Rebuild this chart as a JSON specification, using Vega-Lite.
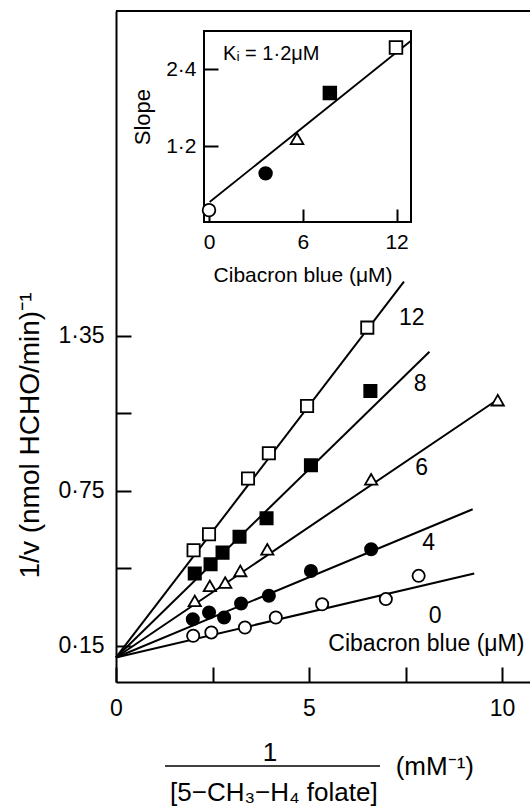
{
  "$schema": "https://vega.github.io/schema/vega-lite/v6.json",
  "width": 414,
  "height": 671,
  "autosize": {"type": "none"},
  "padding": {"left": 116, "top": 11, "right": 0, "bottom": 128},
  "background": "white",
  "config": {
    "font": "Liberation Sans",
    "view": {"stroke": null},
    "axis": {
      "grid": false, "domainColor": "black", "tickColor": "black", "labelColor": "black", "titleColor": "black",
      "domainWidth": 2, "tickWidth": 2, "labelFont": "Liberation Sans", "titleFont": "Liberation Sans",
      "titleFontWeight": "normal", "labelFlush": false, "labelOverlap": false, "labelBound": false
    },
    "text": {"font": "Liberation Sans", "color": "black"}
  },
  "datasets": {
    "points": [
      {"conc": 0, "x": 2.00, "y": 0.189}, {"conc": 0, "x": 2.47, "y": 0.202}, {"conc": 0, "x": 3.34, "y": 0.221}, {"conc": 0, "x": 4.14, "y": 0.26}, {"conc": 0, "x": 5.34, "y": 0.311}, {"conc": 0, "x": 6.99, "y": 0.331}, {"conc": 0, "x": 7.84, "y": 0.421},
      {"conc": 4, "x": 1.99, "y": 0.253}, {"conc": 4, "x": 2.41, "y": 0.279}, {"conc": 4, "x": 2.80, "y": 0.26}, {"conc": 4, "x": 3.24, "y": 0.314}, {"conc": 4, "x": 3.96, "y": 0.344}, {"conc": 4, "x": 5.05, "y": 0.44}, {"conc": 4, "x": 6.61, "y": 0.524},
      {"conc": 6, "x": 2.04, "y": 0.324}, {"conc": 6, "x": 2.43, "y": 0.382}, {"conc": 6, "x": 2.83, "y": 0.395}, {"conc": 6, "x": 3.22, "y": 0.44}, {"conc": 6, "x": 3.92, "y": 0.524}, {"conc": 6, "x": 6.61, "y": 0.795}, {"conc": 6, "x": 9.89, "y": 1.101},
      {"conc": 8, "x": 2.04, "y": 0.43}, {"conc": 8, "x": 2.45, "y": 0.466}, {"conc": 8, "x": 2.76, "y": 0.511}, {"conc": 8, "x": 3.20, "y": 0.572}, {"conc": 8, "x": 3.90, "y": 0.644}, {"conc": 8, "x": 5.05, "y": 0.849}, {"conc": 8, "x": 6.59, "y": 1.137},
      {"conc": 12, "x": 2.01, "y": 0.52}, {"conc": 12, "x": 2.41, "y": 0.582}, {"conc": 12, "x": 3.42, "y": 0.798}, {"conc": 12, "x": 3.96, "y": 0.896}, {"conc": 12, "x": 4.95, "y": 1.079}, {"conc": 12, "x": 6.51, "y": 1.382}
    ],
    "lines": [
      {"conc": 0, "x": 0, "y": 0.105}, {"conc": 0, "x": 9.28, "y": 0.43},
      {"conc": 4, "x": 0, "y": 0.105}, {"conc": 4, "x": 9.24, "y": 0.679},
      {"conc": 6, "x": 0, "y": 0.105}, {"conc": 6, "x": 9.85, "y": 1.10},
      {"conc": 8, "x": 0, "y": 0.105}, {"conc": 8, "x": 8.12, "y": 1.289},
      {"conc": 12, "x": 0, "y": 0.105}, {"conc": 12, "x": 7.46, "y": 1.56}
    ],
    "labels": [
      {"label": "12", "x": 7.66, "y": 1.421},
      {"label": "8", "x": 7.88, "y": 1.163},
      {"label": "6", "x": 7.92, "y": 0.84},
      {"label": "4", "x": 8.10, "y": 0.55},
      {"label": "0", "x": 8.27, "y": 0.266},
      {"label": "Cibacron blue (μM)", "x": 8.04, "y": 0.156}
    ],
    "xtitle": [
      {"label": "1", "x": 3.99, "y": -0.264},
      {"label": "[5−CH₃−H₄ folate]", "x": 4.09, "y": -0.419},
      {"label": "(mM⁻¹)", "x": 8.26, "y": -0.318}
    ],
    "inset_points": [
      {"conc": 0, "x": 0, "y": 0.205},
      {"conc": 4, "x": 3.62, "y": 0.779},
      {"conc": 6, "x": 5.63, "y": 1.321},
      {"conc": 8, "x": 7.73, "y": 2.032},
      {"conc": 12, "x": 11.96, "y": 2.742}
    ],
    "inset_line": [
      {"x": 0.04, "y": 0.332},
      {"x": 12.92, "y": 2.847}
    ]
  },
  "layer": [
    {
      "layer": [
        {
          "data": {"name": "lines"},
          "mark": {"type": "line", "color": "black", "strokeWidth": 2},
          "encoding": {
            "x": {"field": "x", "type": "quantitative",
              "scale": {"domain": [0, 10.725], "nice": false, "zero": false},
              "axis": {"orient": "bottom", "values": [0, 2.5, 5, 7.5, 10], "tickSize": -15, "labelPadding": 30,
                "labelFontSize": 23, "labelExpr": "datum.value == 0 ? '0' : datum.value == 5 ? '5' : datum.value == 10 ? '10' : ''",
                "title": null}},
            "y": {"field": "y", "type": "quantitative",
              "scale": {"domain": [0.01, 2.608], "nice": false, "zero": false},
              "axis": {"orient": "left", "values": [0.15, 0.45, 0.75, 1.05, 1.35], "tickSize": -15, "labelPadding": 27,
                "labelFontSize": 23,
                "labelExpr": "datum.value == 0.15 ? '0·15' : datum.value == 0.75 ? '0·75' : datum.value == 1.35 ? '1·35' : ''",
                "title": "1/v  (nmol HCHO/min)⁻¹", "titleFontSize": 28, "titleX": -86, "titleY": 424, "titleAlign": "center", "titleBaseline": "middle"}},
            "detail": {"field": "conc", "type": "nominal"}
          }
        },
        {
          "data": {"values": [{}]},
          "mark": {"type": "rule", "color": "black", "strokeWidth": 2},
          "encoding": {
            "x": {"datum": 0, "type": "quantitative"},
            "x2": {"datum": 10.725},
            "y": {"datum": 2.608, "type": "quantitative"}
          }
        },
        {
          "data": {"name": "points"},
          "mark": {"type": "point", "filled": true, "stroke": "black", "strokeWidth": 1.8, "opacity": 1, "size": 150},
          "encoding": {
            "x": {"field": "x", "type": "quantitative"},
            "y": {"field": "y", "type": "quantitative"},
            "shape": {"field": "conc", "type": "nominal", "scale": {"domain": [0, 4, 6, 8, 12], "range": ["circle", "circle", "triangle-up", "square", "square"]}, "legend": null},
            "fill": {"field": "conc", "type": "nominal", "scale": {"domain": [0, 4, 6, 8, 12], "range": ["white", "black", "white", "black", "white"]}, "legend": null}
          }
        },
        {
          "data": {"name": "labels"},
          "mark": {"type": "text", "fontSize": 23, "align": "center", "baseline": "middle"},
          "encoding": {
            "x": {"field": "x", "type": "quantitative"},
            "y": {"field": "y", "type": "quantitative"},
            "text": {"field": "label"}
          }
        },
        {
          "data": {"name": "xtitle"},
          "mark": {"type": "text", "fontSize": 26, "align": "center", "baseline": "middle"},
          "encoding": {
            "x": {"field": "x", "type": "quantitative"},
            "y": {"field": "y", "type": "quantitative"},
            "text": {"field": "label"}
          }
        },
        {
          "data": {"values": [{}]},
          "mark": {"type": "rule", "color": "black", "strokeWidth": 1.5},
          "encoding": {
            "x": {"datum": 1.27, "type": "quantitative"},
            "x2": {"datum": 6.84},
            "y": {"datum": -0.315, "type": "quantitative"}
          }
        }
      ]
    },
    {
      "layer": [
        {
          "data": {"values": [{}]},
          "mark": {"type": "rect", "filled": false, "stroke": "black", "strokeWidth": 2},
          "encoding": {
            "x": {"datum": -0.32, "type": "quantitative",
              "scale": {"domain": [-0.32, 12.92], "range": [88, 295], "nice": false, "zero": false},
              "axis": {"orient": "bottom", "offset": -460, "values": [0, 6, 12], "tickSize": -13, "labelPadding": 22, "domain": false,
                "labelFontSize": 21, "title": "Cibacron blue (μM)", "titleFontSize": 21, "titleX": 186.6, "titleY": 53.5,
                "titleAlign": "center", "titleBaseline": "middle"}},
            "x2": {"datum": 12.92},
            "y": {"datum": 0.02, "type": "quantitative",
              "scale": {"domain": [0.02, 3.0], "range": [211, 20], "nice": false, "zero": false},
              "axis": {"orient": "left", "offset": -88, "values": [1.2, 2.4], "tickSize": -14, "labelPadding": 22, "domain": false,
                "labelFontSize": 21, "labelExpr": "datum.value == 1.2 ? '1·2' : '2·4'",
                "title": "Slope", "titleFontSize": 22, "titleX": -62, "titleY": 105.6, "titleAlign": "center", "titleBaseline": "middle"}},
            "y2": {"datum": 3.0}
          }
        },
        {
          "data": {"name": "inset_line"},
          "mark": {"type": "line", "color": "black", "strokeWidth": 1.8},
          "encoding": {
            "x": {"field": "x", "type": "quantitative"},
            "y": {"field": "y", "type": "quantitative"}
          }
        },
        {
          "data": {"name": "inset_points"},
          "mark": {"type": "point", "filled": true, "stroke": "black", "strokeWidth": 1.8, "opacity": 1, "size": 160},
          "encoding": {
            "x": {"field": "x", "type": "quantitative"},
            "y": {"field": "y", "type": "quantitative"},
            "shape": {"field": "conc", "type": "nominal", "legend": null},
            "fill": {"field": "conc", "type": "nominal", "legend": null}
          }
        },
        {
          "data": {"values": [{"label": "Kᵢ = 1·2μM"}]},
          "mark": {"type": "text", "fontSize": 20, "align": "left", "baseline": "middle"},
          "encoding": {
            "x": {"datum": 0.9, "type": "quantitative"},
            "y": {"datum": 2.64, "type": "quantitative"},
            "text": {"field": "label"}
          }
        }
      ]
    }
  ],
  "resolve": {"scale": {"x": "independent", "y": "independent"}, "axis": {"x": "independent", "y": "independent"}}
}
